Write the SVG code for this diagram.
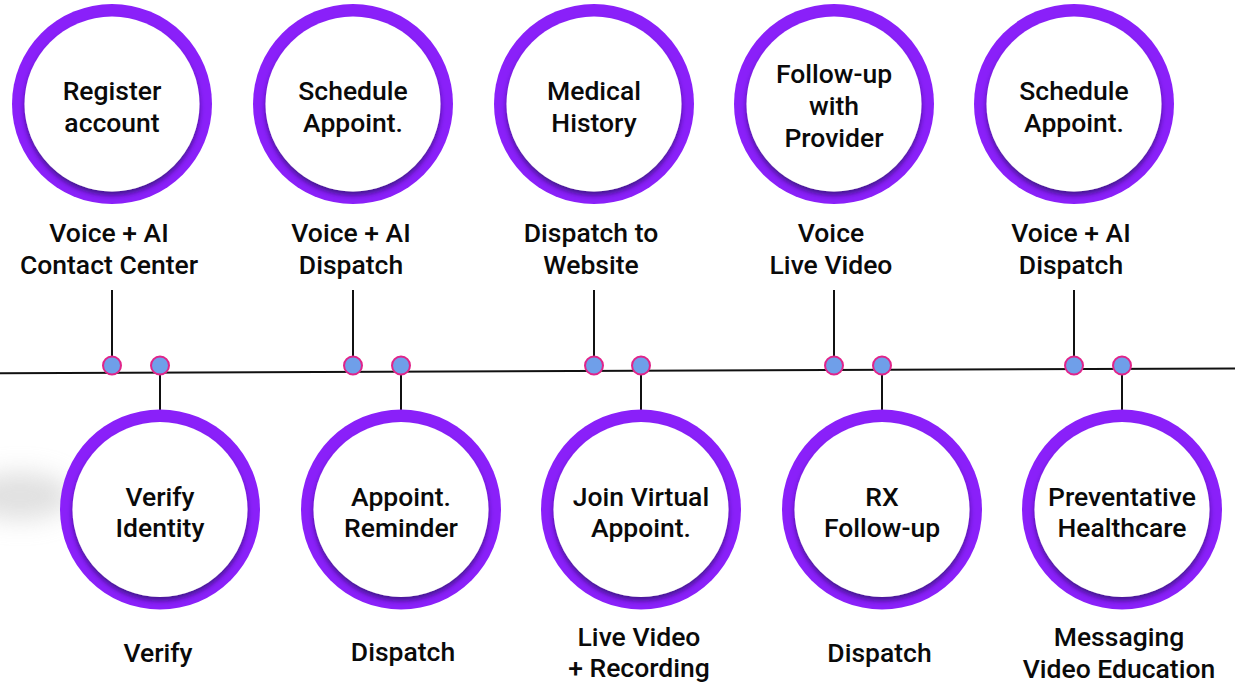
<svg xmlns="http://www.w3.org/2000/svg" width="1235" height="684" viewBox="0 0 1235 684">
  <defs>
    <!-- soft shadow cast by the white face onto the ring, mostly downward -->
    <filter id="faceShadow" x="-20%" y="-20%" width="140%" height="140%">
      <feDropShadow dx="0" dy="4" stdDeviation="2.6" flood-color="#2b0768" flood-opacity="0.7"/>
    </filter>
    <filter id="haze" x="-100%" y="-100%" width="300%" height="300%">
      <feGaussianBlur stdDeviation="12"/>
    </filter>
  </defs>
  <style>
    .ring { fill: #8a20f9; }
    .face { fill: #ffffff; filter: url(#faceShadow); }
    text { font-family: Roboto, "Liberation Sans", sans-serif; font-weight: 500; font-size: 26.5px; fill: #0a0a0a; text-anchor: middle; }
    .wire { stroke: #111111; stroke-width: 2; fill: none; }
    .dot { fill: #6f9fe9; stroke: #e0248a; stroke-width: 2; }
  </style>

  <rect width="1235" height="684" fill="#ffffff"/>

  <!-- faint grey smudge at the left edge -->
  <ellipse cx="20" cy="496" rx="52" ry="24" fill="#c8c8c8" opacity="0.55" filter="url(#haze)"/>

  <!-- timeline, stems and junction dots -->
  <g id="connectors">
    <line class="wire" x1="0" y1="373.3" x2="1235" y2="368.4"/>
    <line class="wire" x1="112" y1="290" x2="112" y2="360"/>
    <line class="wire" x1="353" y1="290" x2="353" y2="360"/>
    <line class="wire" x1="594" y1="290" x2="594" y2="360"/>
    <line class="wire" x1="834" y1="290" x2="834" y2="360"/>
    <line class="wire" x1="1074" y1="290" x2="1074" y2="360"/>
    <line class="wire" x1="160" y1="370" x2="160" y2="412"/>
    <line class="wire" x1="401" y1="370" x2="401" y2="412"/>
    <line class="wire" x1="641" y1="370" x2="641" y2="412"/>
    <line class="wire" x1="882" y1="370" x2="882" y2="412"/>
    <line class="wire" x1="1122" y1="370" x2="1122" y2="412"/>
    <circle class="dot" cx="112" cy="365.5" r="9"/>
    <circle class="dot" cx="160" cy="365.5" r="9"/>
    <circle class="dot" cx="353" cy="365.5" r="9"/>
    <circle class="dot" cx="401" cy="365.5" r="9"/>
    <circle class="dot" cx="594" cy="365.5" r="9"/>
    <circle class="dot" cx="641" cy="365.5" r="9"/>
    <circle class="dot" cx="834" cy="365.5" r="9"/>
    <circle class="dot" cx="882" cy="365.5" r="9"/>
    <circle class="dot" cx="1074" cy="365.5" r="9"/>
    <circle class="dot" cx="1122" cy="365.5" r="9"/>
  </g>

  <!-- upper row -->
  <g id="register-account">
    <circle class="ring" cx="112" cy="104" r="100"/>
    <circle class="face" cx="112" cy="104" r="87.5"/>
    <text x="112" y="100">Register</text>
    <text x="112" y="132">account</text>
    <text x="109" y="242">Voice + AI</text>
    <text x="109" y="274">Contact Center</text>
  </g>
  <g id="schedule-appoint-1">
    <circle class="ring" cx="353" cy="104" r="100"/>
    <circle class="face" cx="353" cy="104" r="87.5"/>
    <text x="353" y="100">Schedule</text>
    <text x="353" y="132">Appoint.</text>
    <text x="351" y="242">Voice + AI</text>
    <text x="351" y="274">Dispatch</text>
  </g>
  <g id="medical-history">
    <circle class="ring" cx="594" cy="104" r="100"/>
    <circle class="face" cx="594" cy="104" r="87.5"/>
    <text x="594" y="100">Medical</text>
    <text x="594" y="132">History</text>
    <text x="591" y="242">Dispatch to</text>
    <text x="591" y="274">Website</text>
  </g>
  <g id="follow-up-provider">
    <circle class="ring" cx="834" cy="104" r="100"/>
    <circle class="face" cx="834" cy="104" r="87.5"/>
    <text x="834" y="83">Follow-up</text>
    <text x="834" y="115">with</text>
    <text x="834" y="147">Provider</text>
    <text x="831" y="242">Voice</text>
    <text x="831" y="274">Live Video</text>
  </g>
  <g id="schedule-appoint-2">
    <circle class="ring" cx="1074" cy="104" r="100"/>
    <circle class="face" cx="1074" cy="104" r="87.5"/>
    <text x="1074" y="100">Schedule</text>
    <text x="1074" y="132">Appoint.</text>
    <text x="1071" y="242">Voice + AI</text>
    <text x="1071" y="274">Dispatch</text>
  </g>

  <!-- lower row -->
  <g id="verify-identity">
    <circle class="ring" cx="160" cy="509.5" r="100"/>
    <circle class="face" cx="160" cy="509.5" r="87.5"/>
    <text x="160" y="506">Verify</text>
    <text x="160" y="537">Identity</text>
    <text x="158" y="661.5">Verify</text>
  </g>
  <g id="appoint-reminder">
    <circle class="ring" cx="401" cy="509.5" r="100"/>
    <circle class="face" cx="401" cy="509.5" r="87.5"/>
    <text x="401" y="506">Appoint.</text>
    <text x="401" y="537">Reminder</text>
    <text x="403" y="661">Dispatch</text>
  </g>
  <g id="join-virtual-appoint">
    <circle class="ring" cx="641" cy="509.5" r="100"/>
    <circle class="face" cx="641" cy="509.5" r="87.5"/>
    <text x="641" y="506">Join Virtual</text>
    <text x="641" y="537">Appoint.</text>
    <text x="639" y="645.5">Live Video</text>
    <text x="639" y="677">+ Recording</text>
  </g>
  <g id="rx-follow-up">
    <circle class="ring" cx="882" cy="509.5" r="100"/>
    <circle class="face" cx="882" cy="509.5" r="87.5"/>
    <text x="882" y="506">RX</text>
    <text x="882" y="537">Follow-up</text>
    <text x="879.5" y="662">Dispatch</text>
  </g>
  <g id="preventative-healthcare">
    <circle class="ring" cx="1122" cy="509.5" r="100"/>
    <circle class="face" cx="1122" cy="509.5" r="87.5"/>
    <text x="1122" y="506">Preventative</text>
    <text x="1122" y="537">Healthcare</text>
    <text x="1119" y="646">Messaging</text>
    <text x="1119" y="678">Video Education</text>
  </g>
</svg>
